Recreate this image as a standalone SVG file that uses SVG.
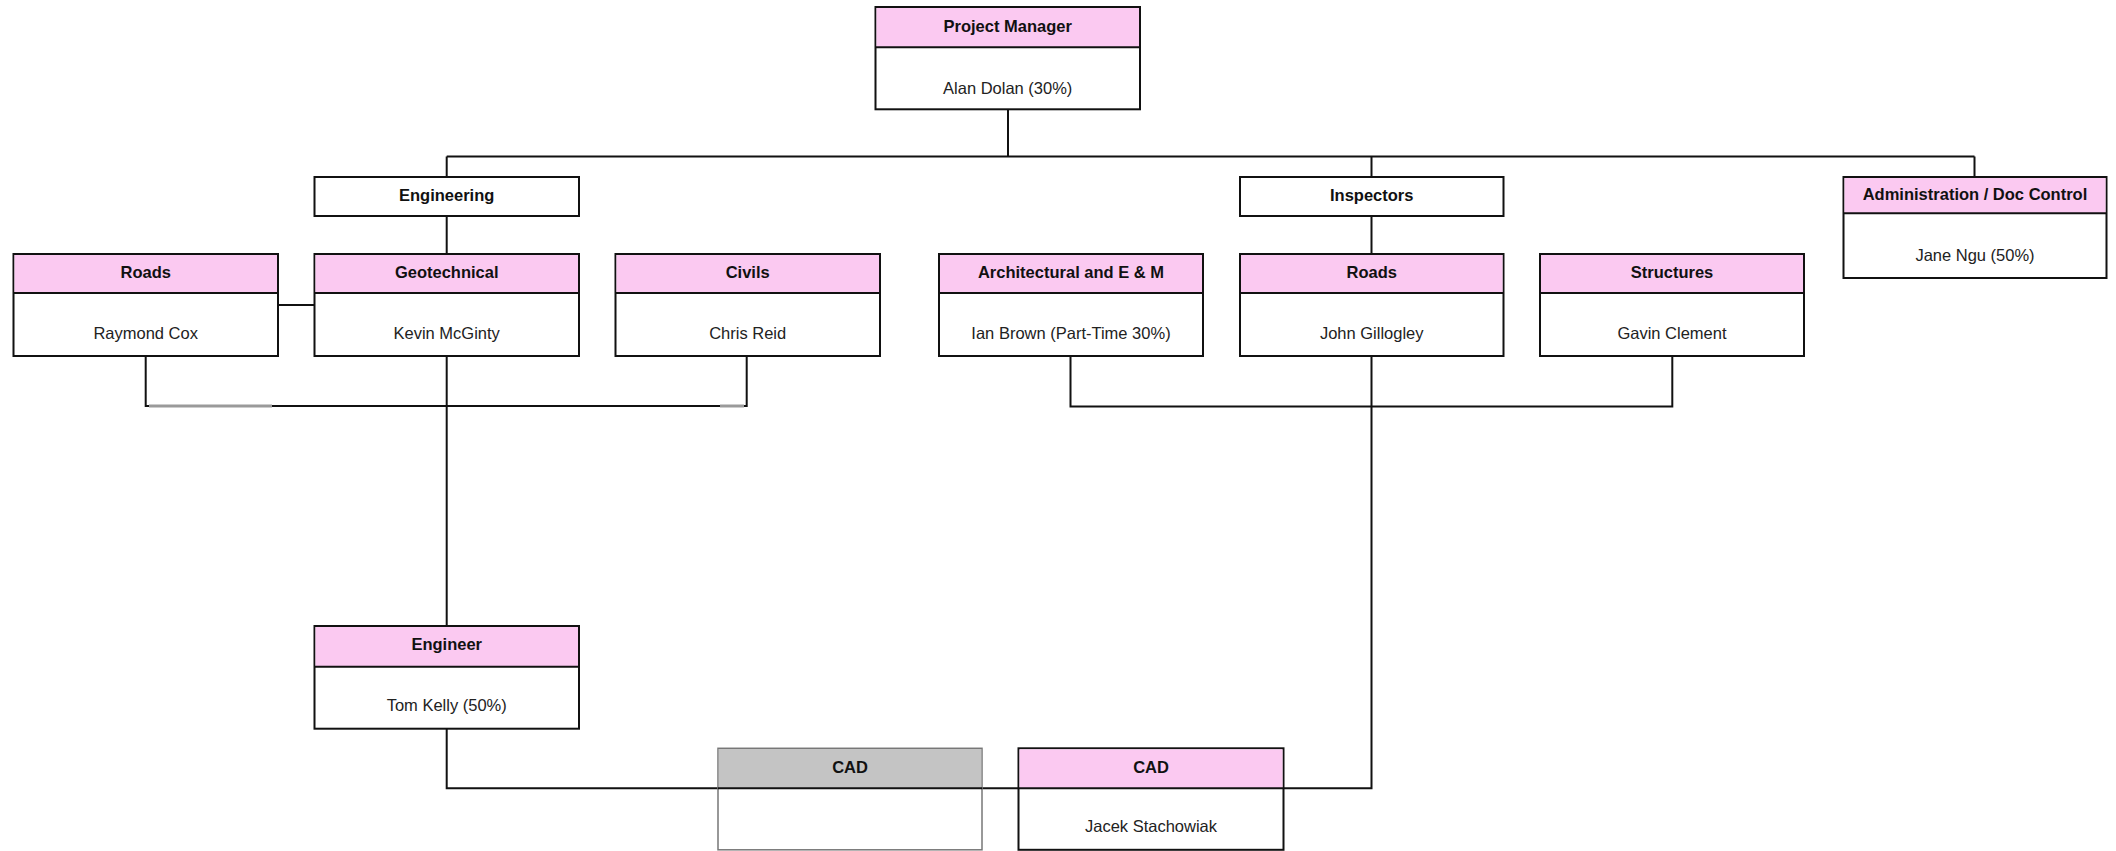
<svg xmlns="http://www.w3.org/2000/svg" width="2116" height="851" viewBox="0 0 2116 851">
<style>
.box{fill:#ffffff;stroke:#111111;stroke-width:2}
.hdr{fill:#fbc9f1;stroke:none}
.hdrg{fill:#c4c4c4;stroke:none}
.div{stroke:#111111;stroke-width:2;fill:none}
.t{font-family:"Liberation Sans",Arial,sans-serif;font-size:16.5px;text-anchor:middle}
.h{font-weight:bold;fill:#111111}
.n{fill:#222222}
.c{stroke:#111111;stroke-width:2;fill:none}
.cg{stroke:#9a9a9a;stroke-width:3;fill:none}
</style>
<rect width="2116" height="851" fill="#ffffff"/>
<g id="connectors">
<path class="c" d="M1008 109.3V156.5"/>
<path class="c" d="M446.7 156.5H1974.5"/>
<path class="c" d="M446.7 156.5V177"/>
<path class="c" d="M1371.5 156.5V177"/>
<path class="c" d="M1974.5 156.5V177"/>
<path class="c" d="M446.7 216V254"/>
<path class="c" d="M1371.5 216V254"/>
<path class="c" d="M278 305H314.5"/>
<path class="c" d="M145.7 356V406H746.7V356"/>
<path class="cg" d="M149 406H272"/>
<path class="cg" d="M720 406H744"/>
<path class="c" d="M446.7 356V626"/>
<path class="c" d="M1070.5 356V406.5H1672.3V356"/>
<path class="c" d="M1371.5 356V788.3H1283.5"/>
<path class="c" d="M446.7 728.7V788.3H718"/>
<path class="c" d="M982 788.3H1018.5"/>
</g>
<g id="pm">
<rect class="box" x="875.5" y="7" width="264.5" height="102.3"/>
<rect class="hdr" x="876.5" y="8" width="262.5" height="39.3"/>
<path class="div" d="M875.5 47.3H1140"/>
<text class="t h" x="1007.7" y="32">Project Manager</text>
<text class="t n" x="1007.7" y="94">Alan Dolan (30%)</text>
</g>
<g id="engineering">
<rect class="box" x="314.5" y="177" width="264.5" height="39"/>
<text class="t h" x="446.7" y="201">Engineering</text>
</g>
<g id="inspectors">
<rect class="box" x="1240" y="177" width="263.5" height="39"/>
<text class="t h" x="1371.7" y="201">Inspectors</text>
</g>
<g id="admin">
<rect class="box" x="1843.5" y="177" width="263" height="101"/>
<rect class="hdr" x="1844.5" y="178" width="261" height="35.3"/>
<path class="div" d="M1843.5 213.3H2106.5"/>
<text class="t h" x="1975" y="200">Administration / Doc Control</text>
<text class="t n" x="1975" y="261">Jane Ngu (50%)</text>
</g>
<g id="roads1">
<rect class="box" x="13.5" y="254" width="264.5" height="102"/>
<rect class="hdr" x="14.5" y="255" width="262.5" height="38"/>
<path class="div" d="M13.5 293H278"/>
<text class="t h" x="145.7" y="278">Roads</text>
<text class="t n" x="145.7" y="339">Raymond Cox</text>
</g>
<g id="geotechnical">
<rect class="box" x="314.5" y="254" width="264.5" height="102"/>
<rect class="hdr" x="315.5" y="255" width="262.5" height="38"/>
<path class="div" d="M314.5 293H579"/>
<text class="t h" x="446.7" y="278">Geotechnical</text>
<text class="t n" x="446.7" y="339">Kevin McGinty</text>
</g>
<g id="civils">
<rect class="box" x="615.5" y="254" width="264.5" height="102"/>
<rect class="hdr" x="616.5" y="255" width="262.5" height="38"/>
<path class="div" d="M615.5 293H880"/>
<text class="t h" x="747.7" y="278">Civils</text>
<text class="t n" x="747.7" y="339">Chris Reid</text>
</g>
<g id="architectural">
<rect class="box" x="939" y="254" width="264" height="102"/>
<rect class="hdr" x="940" y="255" width="262" height="38"/>
<path class="div" d="M939 293H1203"/>
<text class="t h" x="1071" y="278">Architectural and E &amp; M</text>
<text class="t n" x="1071" y="339">Ian Brown (Part-Time 30%)</text>
</g>
<g id="roads2">
<rect class="box" x="1240" y="254" width="263.5" height="102"/>
<rect class="hdr" x="1241" y="255" width="261.5" height="38"/>
<path class="div" d="M1240 293H1503.5"/>
<text class="t h" x="1371.7" y="278">Roads</text>
<text class="t n" x="1371.7" y="339">John Gillogley</text>
</g>
<g id="structures">
<rect class="box" x="1540" y="254" width="264" height="102"/>
<rect class="hdr" x="1541" y="255" width="262" height="38"/>
<path class="div" d="M1540 293H1804"/>
<text class="t h" x="1672" y="278">Structures</text>
<text class="t n" x="1672" y="339">Gavin Clement</text>
</g>
<g id="engineer">
<rect class="box" x="314.5" y="626" width="264.5" height="102.7"/>
<rect class="hdr" x="315.5" y="627" width="262.5" height="39.7"/>
<path class="div" d="M314.5 666.7H579"/>
<text class="t h" x="446.7" y="650">Engineer</text>
<text class="t n" x="446.7" y="711">Tom Kelly (50%)</text>
</g>
<g id="cad-vacant">
<rect x="718" y="748.3" width="264" height="101.5" fill="#ffffff" stroke="#777777" stroke-width="1.5"/>
<rect class="hdrg" x="718.8" y="749" width="262.4" height="39.3"/>
<path class="div" d="M718 788.3H982"/>
<text class="t h" x="850" y="772.7">CAD</text>
</g>
<g id="cad">
<rect class="box" x="1018.5" y="748.3" width="265" height="101.5"/>
<rect class="hdr" x="1019.5" y="749.3" width="263" height="39"/>
<path class="div" d="M1018.5 788.3H1283.5"/>
<text class="t h" x="1151" y="772.7">CAD</text>
<text class="t n" x="1151" y="832.3">Jacek Stachowiak</text>
</g>
</svg>
